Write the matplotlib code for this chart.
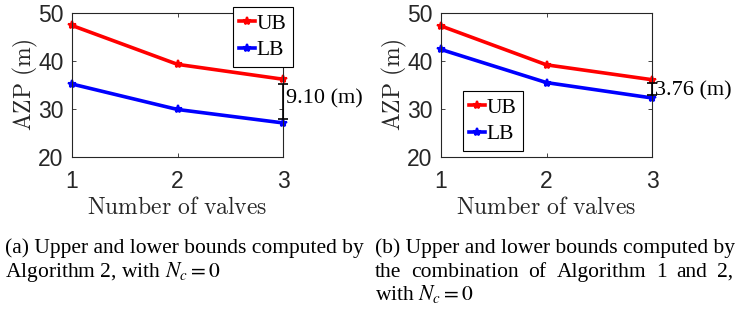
import matplotlib
matplotlib.use("Agg")
import matplotlib.pyplot as plt

valves = [1, 2, 3]
ub_a = [47.4, 39.3, 36.2]
lb_a = [35.2, 29.9, 27.1]
ub_b = [47.3, 39.2, 36.1]
lb_b = [42.4, 35.5, 32.3]
gap_a = (27.9, 35.2)
gap_b = (32.9, 35.4)
gap_a_label = "9.10 (m)"
gap_b_label = "3.76 (m)"
yticks = [20, 30, 40, 50]

serif = 'Liberation Serif'
sans = 'Liberation Sans'
dark = '#262626'

fig = plt.figure(figsize=(7.36, 3.14), dpi=100)
ax1 = fig.add_axes([72 / 736, 1 - 157 / 314, 211 / 736, 144 / 314])
ax2 = fig.add_axes([441 / 736, 1 - 157 / 314, 211 / 736, 144 / 314])

def style(ax):
    ax.set_xlim(1, 3)
    ax.set_ylim(20, 50)
    ax.set_xticks(valves)
    ax.set_yticks(yticks)
    ax.tick_params(direction='in', top=True, right=True, length=3, width=0.6,
                   labelsize=16.5, colors=dark)
    ax.tick_params(axis='x', pad=9)
    ax.tick_params(axis='y', pad=6)
    for lab in ax.get_xticklabels() + ax.get_yticklabels():
        lab.set_fontfamily(sans)
        lab.set_color(dark)
    for s in ax.spines.values():
        s.set_linewidth(0.8)
        s.set_color(dark)
    ax.set_xlabel(r'$\mathrm{Number\ of\ valves}$', fontsize=17, labelpad=2,
                  color=dark, math_fontfamily='cm')
    ax.set_ylabel(r'$\mathrm{AZP\ (m)}$', fontsize=17, labelpad=-1,
                  color=dark, math_fontfamily='cm')

for ax, ub, lb in [(ax1, ub_a, lb_a), (ax2, ub_b, lb_b)]:
    ax.plot(valves, ub, color='#ff0000', lw=2.6, marker='*', ms=6, mew=1.5, label='UB', clip_on=False)
    ax.plot(valves, lb, color='#0000ff', lw=2.6, marker='*', ms=6, mew=1.5, label='LB', clip_on=False)
    style(ax)

for ax, gap in [(ax1, gap_a), (ax2, gap_b)]:
    mid = (gap[0] + gap[1]) / 2
    half = (gap[1] - gap[0]) / 2
    ax.errorbar([3], [mid], yerr=[half], color='black', capsize=3.5,
                lw=1.2, capthick=1.2, clip_on=False, zorder=5)

ax1.text(3.03, 32.1, gap_a_label, fontfamily=serif, fontsize=16, va='center', ha='left')
ax2.text(3.03, 33.75, gap_b_label, fontfamily=serif, fontsize=16, va='center', ha='left')

leg_kw = dict(prop={'family': serif, 'size': 15.5}, handlelength=0.7, handletextpad=0.1,
              borderpad=0.3, labelspacing=0.3, fancybox=False, edgecolor='black',
              framealpha=1, borderaxespad=0, loc='upper left',
              bbox_transform=fig.transFigure)
l1 = ax1.legend(bbox_to_anchor=(233 / 736, 1 - 7 / 314), **leg_kw)
l1.get_frame().set_linewidth(0.8)
l2 = ax2.legend(bbox_to_anchor=(463 / 736, 1 - 91 / 314), **leg_kw)
l2.get_frame().set_linewidth(0.8)

cap_kw = dict(fontfamily=serif, fontsize=15.5, va='baseline', ha='left', math_fontfamily='stix')
fig.text(5 / 736, 1 - 253 / 314, '(a) Upper and lower bounds computed by', **cap_kw)
fig.text(5 / 736, 1 - 277 / 314, r'Algorithm 2, with $N_c = 0$', **cap_kw)
fig.text(375 / 736, 1 - 253 / 314, '(b) Upper and lower bounds computed by', **cap_kw)
fig.text(375 / 736, 1 - 300 / 314, r'with $N_c = 0$', **cap_kw)

# justified caption line between x=375 and x=733 px
words = 'the combination of Algorithm 1 and 2,'.split()
renderer = fig.canvas.get_renderer()
x0, x1 = 375, 733
tmp = [fig.text(0, 0, w, **cap_kw) for w in words]
widths = [t.get_window_extent(renderer).width for t in tmp]
for t in tmp:
    t.remove()
space = (x1 - x0 - sum(widths)) / (len(words) - 1)
x = x0
for w, wd in zip(words, widths):
    fig.text(x / 736, 1 - 277 / 314, w, **cap_kw)
    x += wd + space

fig.savefig('out.png', dpi=100)
